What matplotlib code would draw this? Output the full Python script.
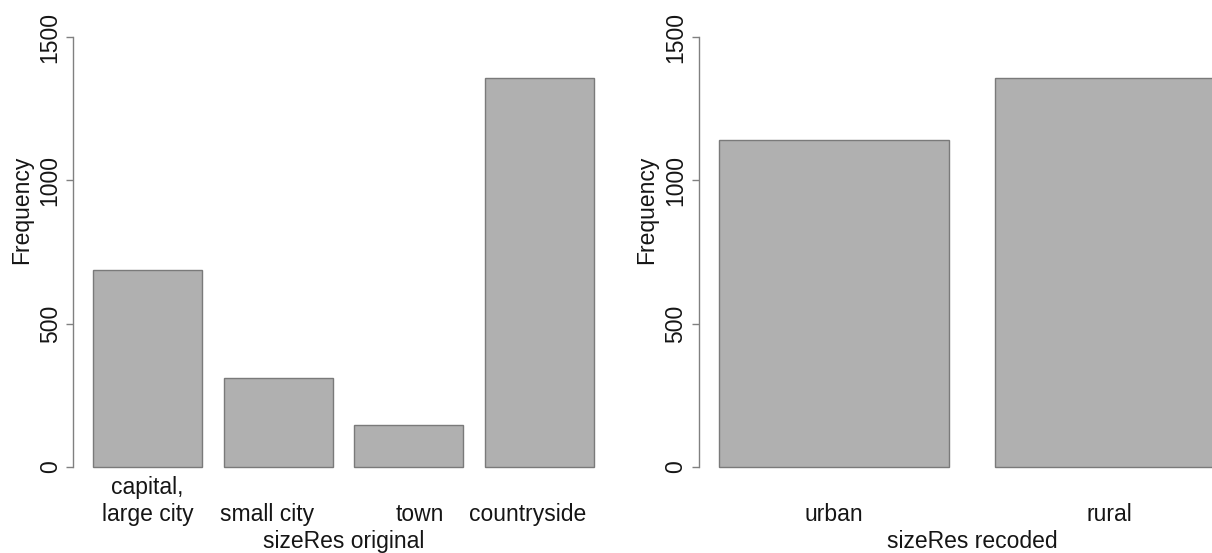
import matplotlib
matplotlib.use("Agg")
import matplotlib.pyplot as plt
from matplotlib.transforms import blended_transform_factory

# data
orig_labels = ["capital,\nlarge city", "small city", "town", "countryside"]
orig_counts = [686, 310, 146, 1356]
recoded_labels = ["urban", "rural"]
recoded_counts = [1142, 1356]
y_ticks = [0, 500, 1000, 1500]

# small horizontal nudges (pixels) of the category labels, as in the original
orig_nudge = [0, -11, 11, -12]
recoded_nudge = [0, 0]

plt.rcParams['font.family'] = ['Liberation Sans', 'DejaVu Sans']
FS = 16.5
TXT = '#151515'
AXC = '#808080'

W, H = 1212, 553
fig = plt.figure(figsize=(W / 100, H / 100), dpi=100)


def px_axes(left, top, right, bottom):
    # axes box given in pixels measured from the top-left corner
    return fig.add_axes([left / W, 1 - bottom / H, (right - left) / W, (bottom - top) / H])


def bar_centres(n, space=0.2):
    # R barplot layout: width 1, gap 0.2
    return [space + 0.5 + i * (1 + space) for i in range(n)]


def draw_panel(ax, labels, counts, nudges, xlabel, ylab_x, xlab_x):
    xs = bar_centres(len(counts))
    ax.bar(xs, counts, width=1.0, color='#b0b0b0', edgecolor='#7a7a7a', linewidth=1.0)
    lo, hi = xs[0] - 0.5, xs[-1] + 0.5
    pad = 0.04 * (hi - lo)
    ax.set_xlim(lo - pad, hi + pad)
    ax.set_ylim(-60, 1560)

    for s in ('top', 'right', 'bottom'):
        ax.spines[s].set_visible(False)
    ax.spines['left'].set_bounds(0, 1500)
    ax.spines['left'].set_color(AXC)
    ax.spines['left'].set_linewidth(1.0)
    ax.set_xticks([])
    ax.set_yticks(y_ticks)
    ax.set_yticklabels([str(t) for t in y_ticks])
    ax.tick_params(axis='y', length=4.8, width=1.0, color=AXC, pad=3.3,
                   labelsize=FS, labelcolor=TXT)
    for lab in ax.get_yticklabels():
        lab.set_rotation(90)
        lab.set_va('center')

    # category labels: bottom line baseline at 521 px, lines 27 px apart
    tr = blended_transform_factory(ax.transData, fig.transFigure)
    for x, lab, dx in zip(xs, labels, nudges):
        lines = lab.split("\n")
        for k, line in enumerate(reversed(lines)):
            ybase = 521 - 27 * k
            ax.annotate(line, xy=(x, 1 - ybase / H), xycoords=tr,
                        xytext=(dx, 0), textcoords='offset pixels',
                        ha='center', va='baseline', fontsize=FS, color=TXT,
                        annotation_clip=False)

    fig.text(xlab_x / W, 1 - 548 / H, xlabel, ha='center', va='baseline',
             fontsize=FS, color=TXT)
    fig.text(ylab_x / W, 1 - 210 / H, "Frequency", ha='center', va='center',
             rotation=90, fontsize=FS, color=TXT)


ax1 = px_axes(73, 19.8, 614, 484.2)
draw_panel(ax1, orig_labels, orig_counts, orig_nudge, "sizeRes original", 22, 343.5)

ax2 = px_axes(698.5, 19.8, 1245, 484.2)
draw_panel(ax2, recoded_labels, recoded_counts, recoded_nudge, "sizeRes recoded", 647, 972)

fig.savefig("out.png", dpi=100)
